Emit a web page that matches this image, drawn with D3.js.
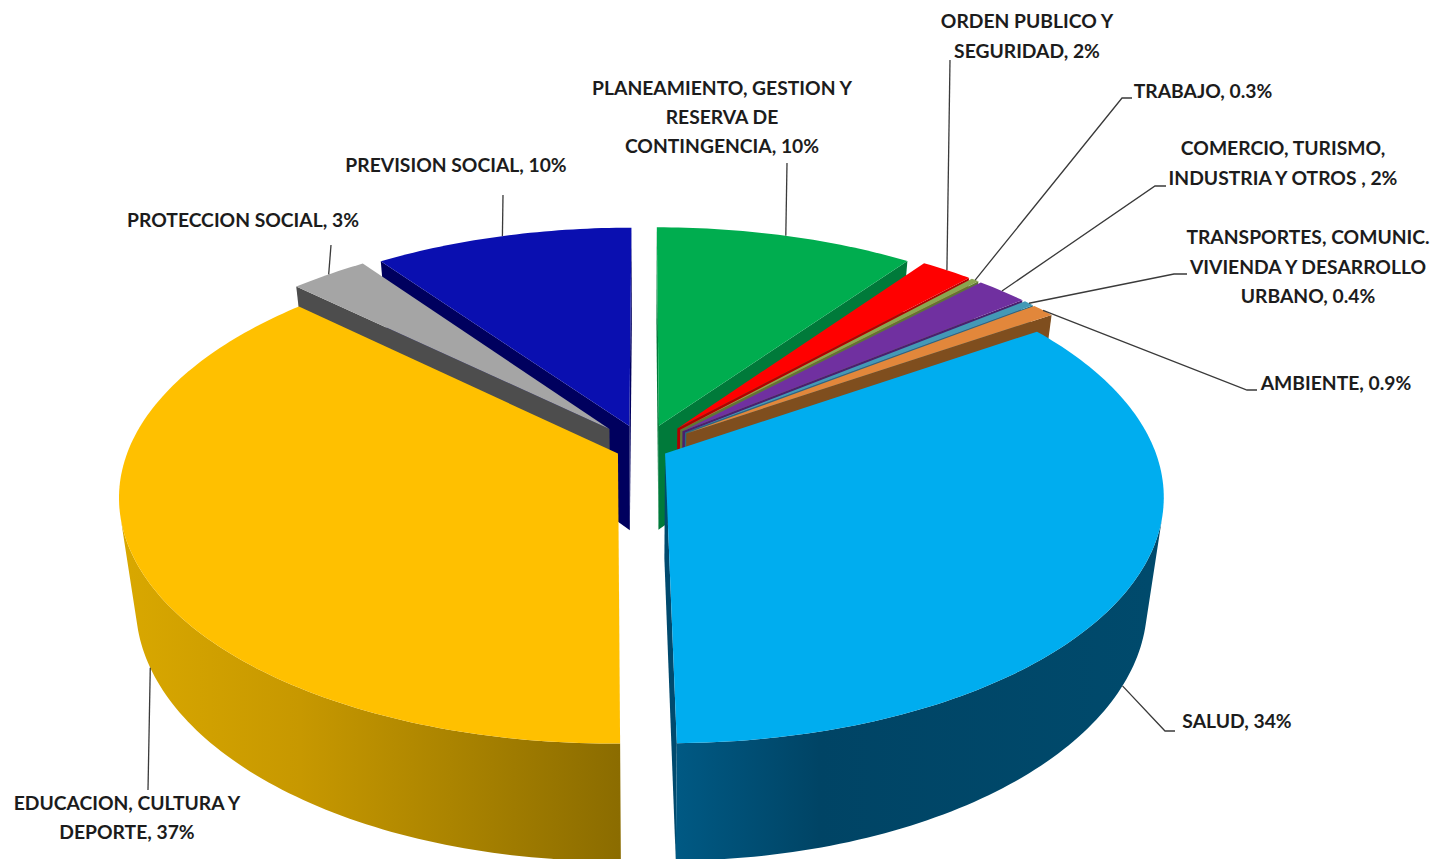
<!DOCTYPE html>
<html>
<head>
<meta charset="utf-8">
<script src="https://cdn.jsdelivr.net/npm/d3@7"></script>
<style>
  html, body { margin: 0; padding: 0; background: #fff; overflow: hidden; }
  text { font-family: Lato, "Open Sans", sans-serif; font-weight: 700; font-size: 19.3px; fill: #1c1c1c; }
</style>
</head>
<body>
<svg id="chart" width="1433" height="859"></svg>
<script>
// budget share per sector, clockwise from twelve o'clock
var sectors = ['PLANEAMIENTO', 'ORDEN', 'TRABAJO', 'COMERCIO', 'TRANSPORTES', 'AMBIENTE', 'SALUD', 'EDUCACION', 'PROTECCION', 'PREVISION'];
var shares = [10, 2, 0.3, 2, 0.4, 0.9, 34, 37, 3, 10];
var shareLabels = ['10%', '2%', '0.3%', '2%', '0.4%', '0.9%', '34%', '37%', '3%', '10%'];
var labelLines = [
  ['PLANEAMIENTO, GESTION Y', 'RESERVA DE', 'CONTINGENCIA, '],
  ['ORDEN PUBLICO Y', 'SEGURIDAD, '],
  ['TRABAJO, '],
  ['COMERCIO, TURISMO,', 'INDUSTRIA Y OTROS , '],
  ['TRANSPORTES, COMUNIC.', 'VIVIENDA Y DESARROLLO', 'URBANO, '],
  ['AMBIENTE, '],
  ['SALUD, '],
  ['EDUCACION, CULTURA Y', 'DEPORTE, '],
  ['PROTECCION SOCIAL, '],
  ['PREVISION SOCIAL, ']
];

// styling
var topColors = ['#00ad4f', '#ff0000', '#8aa650', '#7030a0', '#4399b6', '#e2873b', '#00adef', '#ffc000', '#a5a5a5', '#0a0fb0'];
var wallColors = ['#007a3a', '#b00000', '#5f7636', '#4a1f6e', '#2a6a80', '#7f4e1e', '#004a6e', '#a88300', '#4d4d4d', '#00005e'];
var explode = [0.1, 0.108, 0.108, 0.107, 0.107, 0.107, 0.0485, 0.058, 0.108, 0.098];
var drawOrder = [9, 8, 0, 1, 2, 3, 4, 5, 7, 6];
var wallGradients = {
  6: [[670, '#005a85'], [820, '#004465'], [1150, '#004a6c']],
  7: [[120, '#d9a800'], [300, '#c79800'], [450, '#ab8400'], [620, '#8b6c00']]
};

// label layout: text centre, first line y, line step, leader knee points
var labelCentres = [[722, 95, 29], [1027, 28, 30], [1203, 98, 0], [1283, 155, 30], [1308, 244, 29.5], [1336, 390, 0], [1237, 728, 0], [127, 810, 29], [243, 227, 0], [456, 172, 0]];
var leaderKnees = [
  [[787, 163]],
  [[950, 60]],
  [[1132, 98], [1122, 98]],
  [[1166, 186], [1155, 186]],
  [[1187, 274], [1174, 274]],
  [[1257, 390], [1247, 390]],
  [[1175, 731], [1165, 731]],
  [[148, 790]],
  [[331, 245]],
  [[503, 195]]
];

// perspective of the pie plane, fitted to the picture
var cx = 644, cy = 448, rx = 489, ry = 238.8, persp = 0.169, depth = 105, shrink = 0.968;

function project(u, v, low) {
  var w = 1 + persp * v;
  var k = low ? shrink : 1;
  return [
    cx + k * rx * u / w,
    cy - k * ry * v / w + (low ? depth / w : 0)
  ];
}

var svg = d3.select('#chart');
var defs = svg.append('defs');
var line = d3.line();
var toRad = Math.PI / 180;

var arcs = d3.pie().sort(null).value(function (d) { return d; })(shares);

Object.keys(wallGradients).forEach(function (i) {
  var stops = wallGradients[i];
  var grad = defs.append('linearGradient')
    .attr('id', 'wall' + i)
    .attr('gradientUnits', 'userSpaceOnUse')
    .attr('x1', stops[0][0]).attr('x2', stops[stops.length - 1][0])
    .attr('y1', 0).attr('y2', 0);
  var offset = d3.scaleLinear().domain([stops[0][0], stops[stops.length - 1][0]]).range([0, 1]);
  stops.forEach(function (s) {
    grad.append('stop').attr('offset', offset(s[0])).attr('stop-color', s[1]);
  });
});

function slicePoint(i, angle, r, low) {
  var mid = (arcs[i].startAngle + arcs[i].endAngle) / 2;
  var u = explode[i] * Math.sin(mid) + r * Math.sin(angle);
  var v = explode[i] * Math.cos(mid) + r * Math.cos(angle);
  return project(u, v, low);
}

// d3.polygonArea is positive for a loop running this way round on screen
function facesViewer(a, b, c, d) {
  return d3.polygonArea([a, b, c, d]) > 0;
}

drawOrder.forEach(function (i) {
  var arc = arcs[i];
  var g = svg.append('g').attr('class', 'slice ' + sectors[i]);
  var angles = d3.range(arc.startAngle, arc.endAngle, toRad);
  angles.push(arc.endAngle);

  var rimTop = angles.map(function (a) { return slicePoint(i, a, 1, false); });
  var rimLow = angles.map(function (a) { return slicePoint(i, a, 1, true); });
  var apexTop = slicePoint(i, 0, 0, false);
  var apexLow = slicePoint(i, 0, 0, true);

  // the two cut faces
  var cuts = [
    [apexTop, rimTop[0], rimLow[0], apexLow],
    [rimTop[rimTop.length - 1], apexTop, apexLow, rimLow[rimLow.length - 1]]
  ];
  cuts.forEach(function (q) {
    if (facesViewer(q[0], q[1], q[2], q[3])) {
      g.append('path').attr('d', line(q) + 'Z').attr('fill', wallColors[i]);
    }
  });

  // outer wall, only the stretch turned towards the viewer
  var runTop = [], runLow = [];
  for (var k = 0; k < angles.length - 1; k++) {
    if (facesViewer(rimTop[k], rimTop[k + 1], rimLow[k + 1], rimLow[k])) {
      if (!runTop.length) { runTop.push(rimTop[k]); runLow.push(rimLow[k]); }
      runTop.push(rimTop[k + 1]);
      runLow.push(rimLow[k + 1]);
    }
  }
  if (runTop.length) {
    g.append('path')
      .attr('d', line(runTop.concat(runLow.reverse())) + 'Z')
      .attr('fill', wallGradients[i] ? 'url(#wall' + i + ')' : wallColors[i]);
  }

  // top surface
  g.append('path')
    .attr('d', line([apexTop].concat(rimTop)) + 'Z')
    .attr('fill', topColors[i]);
});

// leaders run from the label to the rim at the middle of the slice
var onFront = [6, 7];
var leaderEnd = arcs.map(function (arc, i) {
  var low = onFront.indexOf(i) >= 0;
  var mid = (arc.startAngle + arc.endAngle) / 2;
  return slicePoint(i, mid, 1, low);
});

svg.append('g').selectAll('path')
  .data(leaderKnees)
  .enter().append('path')
  .attr('d', function (d, i) { return line(d.concat([leaderEnd[i]])); })
  .attr('fill', 'none')
  .attr('stroke', '#3a3a3a')
  .attr('stroke-width', 1.3);

var labels = svg.append('g').selectAll('text')
  .data(labelLines)
  .enter().append('text')
  .attr('text-anchor', 'middle');

labels.each(function (lines, i) {
  var pos = labelCentres[i];
  d3.select(this).selectAll('tspan')
    .data(lines)
    .enter().append('tspan')
    .attr('x', pos[0])
    .attr('y', function (d, j) { return pos[1] + j * pos[2]; })
    .text(function (d, j) { return j === lines.length - 1 && d.slice(-2) === ', ' ? d + shareLabels[i] : d; });
});
</script>
</body>
</html>
